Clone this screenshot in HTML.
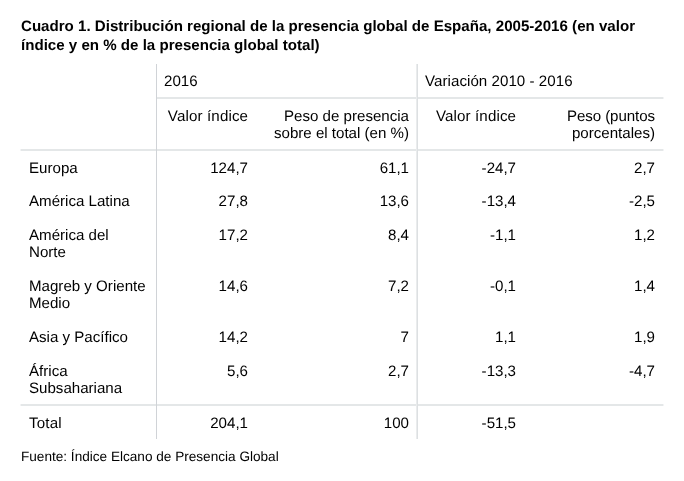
<!DOCTYPE html>
<html lang="es">
<head>
<meta charset="utf-8">
<title>Cuadro 1</title>
<style>
html,body{margin:0;padding:0;background:#fff;}
body{width:684px;height:481px;position:relative;overflow:hidden;font-family:"Liberation Sans",Arial,sans-serif;color:#000;font-size:15.1px;line-height:17px;text-rendering:geometricPrecision;}
.title{position:absolute;left:21px;top:17px;width:660px;font-weight:bold;font-size:15.1px;line-height:19px;margin:0;white-space:nowrap;}
table{position:absolute;left:21px;top:64px;width:642px;border-collapse:separate;border-spacing:0;table-layout:fixed;}
td,th{padding:9px 8px 0 8px;font-weight:normal;vertical-align:top;text-align:right;box-sizing:border-box;}
td.l,th.l{text-align:left;}
td:nth-child(3){padding-right:7px;}
tr.s>*{height:34px;}
tr.d>*{height:51px;}
tr.h2>*{height:52px;}
tr.b>*{padding-top:10px;}
.hl{position:absolute;left:21px;width:642px;height:2px;background:#e4e7e8;}
.hl.e{box-shadow:-1px 0 0 #f3f4f5,1px 0 0 #f3f4f5;}
.hl.r{box-shadow:1px 0 0 #f3f4f5;}
.vl{position:absolute;top:64px;height:375px;}
.src{position:absolute;left:21px;top:448px;font-size:13.6px;line-height:17px;margin:0;white-space:nowrap;}
</style>
</head>
<body>
<p class="title">Cuadro 1. Distribución regional de la presencia global de España, 2005-2016 (en valor<br>índice y en % de la presencia global total)</p>
<table>
<colgroup><col style="width:135px"><col style="width:100px"><col style="width:160px"><col style="width:108px"><col style="width:139px"></colgroup>
<thead>
<tr class="s"><th class="l" rowspan="2"></th><th class="l" colspan="2">2016</th><th class="l" colspan="2" style="padding-left:9px;letter-spacing:.05px">Variación 2010 - 2016</th></tr>
<tr class="h2 b"><th style="letter-spacing:.14px;padding-right:7.86px">Valor índice</th><th style="padding-right:7px">Peso de presencia<br>sobre el total (en %)</th><th style="letter-spacing:.14px;padding-right:7.86px">Valor índice</th><th><span style="letter-spacing:-.07px">Peso (puntos</span><br>porcentales)</th></tr>
</thead>
<tbody>
<tr class="s b"><td class="l">Europa</td><td>124,7</td><td>61,1</td><td>-24,7</td><td>2,7</td></tr>
<tr class="s"><td class="l">América Latina</td><td>27,8</td><td>13,6</td><td>-13,4</td><td>-2,5</td></tr>
<tr class="d"><td class="l">América del<br>Norte</td><td>17,2</td><td>8,4</td><td>-1,1</td><td>1,2</td></tr>
<tr class="d"><td class="l">Magreb y Oriente<br>Medio</td><td>14,6</td><td>7,2</td><td>-0,1</td><td>1,4</td></tr>
<tr class="s"><td class="l">Asia y Pacífico</td><td>14,2</td><td>7</td><td>1,1</td><td>1,9</td></tr>
<tr class="d"><td class="l">África<br>Subsahariana</td><td>5,6</td><td>2,7</td><td>-13,3</td><td>-4,7</td></tr>
<tr class="s b"><td class="l" style="letter-spacing:.2px">Total</td><td>204,1</td><td>100</td><td>-51,5</td><td></td></tr>
</tbody>
</table>
<div class="hl r" style="top:97px;left:157px;width:506px"></div>
<div class="hl e" style="top:149px"></div>
<div class="hl e" style="top:404px"></div>
<div class="vl" style="left:156px;width:1px;background:#d0d3d7"></div>
<div class="vl" style="left:416px;width:1px;background:#eaeced"></div>
<div class="vl" style="left:417px;width:1px;background:#dde0e2"></div>
<p class="src">Fuente: Índice Elcano de Presencia Global</p>
</body>
</html>
